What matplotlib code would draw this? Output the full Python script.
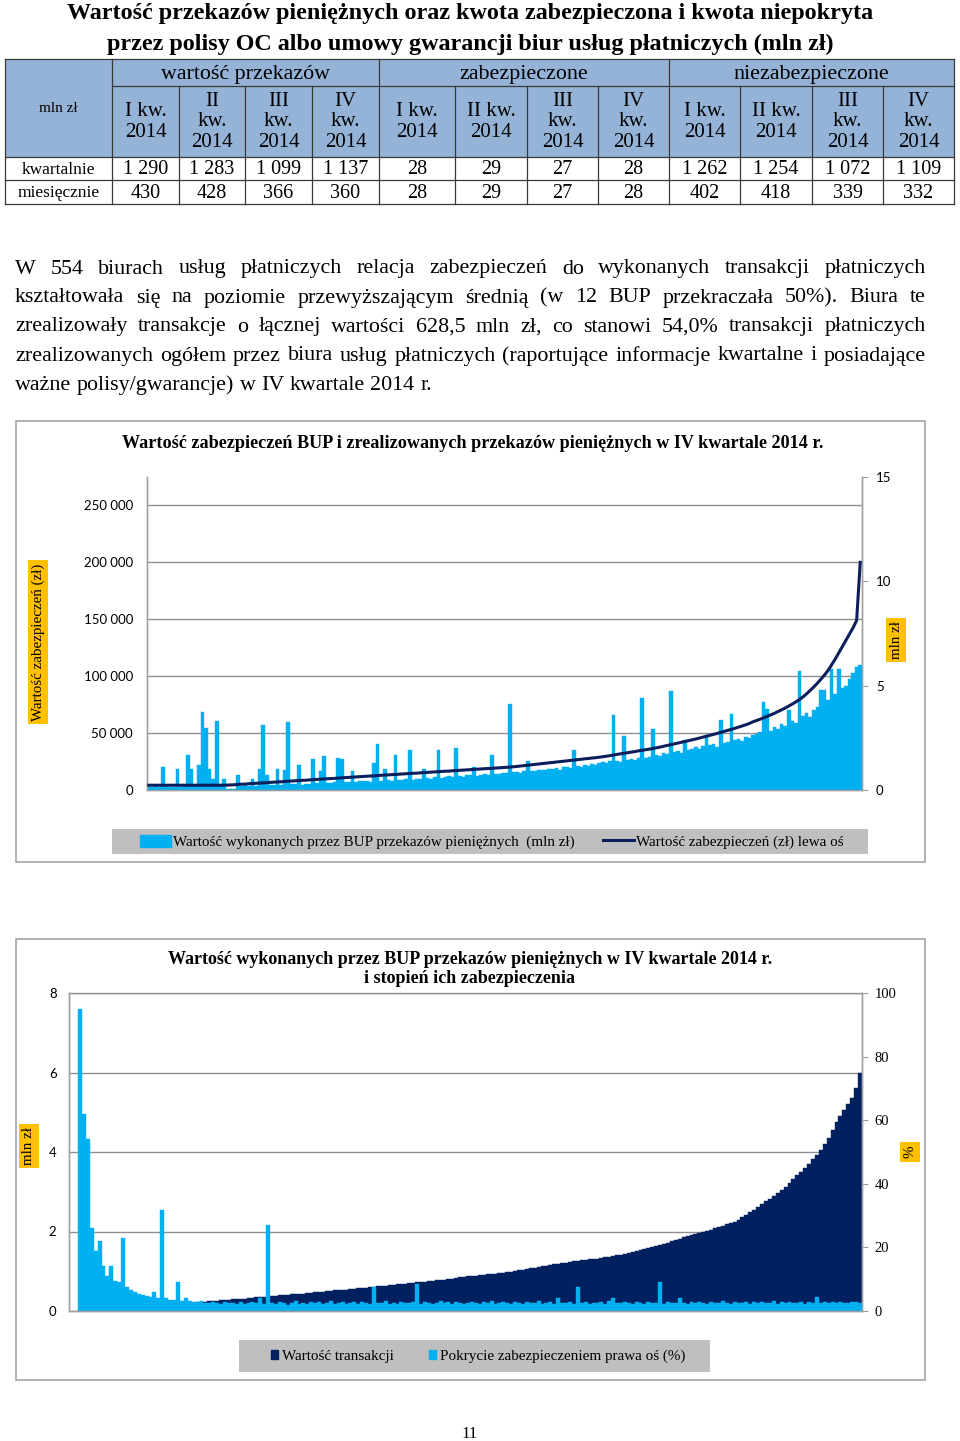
import matplotlib

matplotlib.use("Agg")
import matplotlib.pyplot as plt
import numpy as np
from matplotlib.lines import Line2D
from matplotlib.patches import Patch, Rectangle
from matplotlib.ticker import FuncFormatter

W, H = 960, 1441
SERIF = "Liberation Serif"
SANS = "Lato"
LIGHT = "#00B0F0"
NAVY = "#002060"
LINE_NAVY = "#0B1F5C"
GRID = "#8F8F8F"
SPINE = "#A0A0A0"
YELLOW = "#FFC000"
HEAD = "#95B3D7"
LEG_BG = "#BFBFBF"

# ---- table ----
TITLE = ["Wartość przekazów pieniężnych oraz kwota zabezpieczona i kwota niepokryta",
         "przez polisy OC albo umowy gwarancji biur usług płatniczych (mln zł)"]
GROUPS = ["wartość przekazów", "zabezpieczone", "niezabezpieczone"]
QUARTERS = ["I kw.\n2014", "II\nkw.\n2014", "III\nkw.\n2014", "IV\nkw.\n2014",
            "I kw.\n2014", "II kw.\n2014", "III\nkw.\n2014", "IV\nkw.\n2014",
            "I kw.\n2014", "II kw.\n2014", "III\nkw.\n2014", "IV\nkw.\n2014"]
ROW_LABELS = ["kwartalnie", "miesięcznie"]
KWARTALNIE = [1290, 1283, 1099, 1137, 28, 29, 27, 28, 1262, 1254, 1072, 1109]
MIESIECZNIE = [430, 428, 366, 360, 28, 29, 27, 28, 402, 418, 339, 332]

PARAGRAPH = [
    "W 554 biurach usług płatniczych relacja zabezpieczeń do wykonanych transakcji płatniczych",
    "kształtowała się na poziomie przewyższającym średnią (w 12 BUP przekraczała 50%). Biura te",
    "zrealizowały transakcje o łącznej wartości 628,5 mln zł, co stanowi 54,0% transakcji płatniczych",
    "zrealizowanych ogółem przez biura usług płatniczych (raportujące informacje kwartalne i posiadające",
    "ważne polisy/gwarancje) w IV kwartale 2014 r.",
]

# ---- chart 1: BUP sorted by security value (one bar per ~3 offices) ----
C1_TITLE = "Wartość zabezpieczeń BUP i zrealizowanych przekazów pieniężnych w IV kwartale 2014 r."
C1_TRANSFERS = [  # mln zł, right axis
    0.16, 0.14, 0.18, 0.15, 1.10, 0.17, 0.13, 0.16, 1.00, 0.15,
    0.18, 1.70, 1.00, 0.17, 1.20, 3.75, 2.95, 1.00, 0.55, 3.30,
    0.20, 0.55, 0.05, 0.04, 0.06, 0.70, 0.19, 0.22, 0.18, 0.55,
    0.21, 1.00, 3.10, 0.70, 0.24, 0.22, 1.00, 0.25, 0.95, 3.25,
    0.27, 0.30, 1.20, 0.26, 0.31, 0.29, 1.50, 0.33, 0.90, 1.65,
    0.35, 0.32, 0.38, 1.55, 1.50, 0.36, 0.40, 0.90, 0.37, 0.42,
    0.41, 0.45, 0.39, 1.30, 2.20, 0.44, 1.00, 0.47, 0.43, 1.70,
    0.50, 0.46, 0.52, 1.90, 0.49, 0.55, 0.51, 1.00, 0.57, 0.54,
    0.60, 1.90, 0.58, 0.63, 0.66, 0.61, 2.00, 0.68, 0.64, 0.70,
    0.72, 1.10, 0.69, 0.74, 0.77, 0.71, 1.70, 0.79, 0.75, 0.80,
    0.82, 4.10, 0.84, 0.88, 0.81, 0.90, 1.40, 0.93, 0.89, 0.96,
    0.98, 0.94, 1.02, 1.00, 1.05, 0.97, 1.08, 1.12, 1.04, 1.90,
    1.15, 1.10, 1.20, 1.17, 1.25, 1.21, 1.30, 1.35, 1.28, 1.38,
    3.60, 1.40, 1.33, 2.60, 1.45, 1.50, 1.42, 1.55, 4.40, 1.52,
    1.60, 2.90, 1.70, 1.65, 1.78, 1.72, 4.76, 1.80, 1.85, 1.77,
    2.40, 1.90, 1.95, 2.05, 1.98, 2.10, 2.65, 2.15, 2.20, 2.08,
    3.35, 2.25, 2.30, 3.64, 2.38, 2.45, 2.35, 2.55, 2.50, 2.65,
    2.70, 2.80, 4.20, 3.90, 2.85, 3.00, 2.90, 3.15, 3.05, 3.85,
    3.30, 3.20, 5.70, 3.55, 3.70, 3.50, 3.85, 4.00, 4.80, 4.80,
    4.30, 5.80, 4.60, 5.80, 4.90, 5.00, 5.30, 5.60, 5.90, 6.00,
]
C1_SECURITY = [  # zł, left axis
    4200, 4200, 4200, 4200, 4200, 4200, 4200, 4200, 4200, 4200,
    4200, 4200, 4200, 4200, 4200, 4200, 4200, 4200, 4200, 4200,
    4200, 4200, 4300, 4500, 4600, 4900, 5100, 5200, 5500, 5700,
    5900, 6100, 6200, 6500, 6700, 6900, 7100, 7200, 7500, 7700,
    7900, 8100, 8300, 8500, 8600, 8900, 9100, 9300, 9500, 9700,
    9900, 10100, 10200, 10500, 10700, 10900, 11100, 11300, 11500, 11700,
    11900, 12100, 12300, 12400, 12700, 12900, 13100, 13300, 13500, 13700,
    13900, 14100, 14300, 14500, 14700, 14800, 15100, 15300, 15500, 15700,
    15900, 16100, 16300, 16500, 16600, 16900, 17100, 17300, 17500, 17700,
    17900, 18100, 18300, 18500, 18700, 18900, 19100, 19300, 19500, 19700,
    19900, 20100, 20400, 20700, 21100, 21400, 21800, 22100, 22500, 22800,
    23200, 23500, 23900, 24200, 24600, 24900, 25300, 25600, 26000, 26300,
    26700, 27000, 27400, 27700, 28100, 28400, 28800, 29200, 29700, 30200,
    30700, 31300, 31800, 32300, 32800, 33300, 33800, 34400, 34900, 35400,
    35900, 36500, 37100, 37700, 38400, 39000, 39700, 40400, 41100, 41800,
    42500, 43200, 44000, 44800, 45600, 46400, 47200, 48000, 48800, 49700,
    50600, 51500, 52400, 53300, 54300, 55300, 56300, 57300, 58500, 59900,
    61000, 62200, 63400, 64700, 66000, 67400, 68900, 70400, 72000, 73700,
    75500, 77400, 79500, 81800, 84500, 87500, 90500, 93800, 97300, 101000,
    105000, 110000, 115000, 120500, 126000, 131500, 137000, 142500, 149000, 200000,
]

# ---- chart 2: BUP sorted by transaction value ----
C2_TITLE = "Wartość wykonanych przez BUP przekazów pieniężnych w IV kwartale 2014 r.\ni stopień ich zabezpieczenia"
C2_VALUE = [  # mln zł, left axis
    0.01, 0.02, 0.03, 0.04, 0.05, 0.06, 0.06, 0.07, 0.08, 0.08,
    0.09, 0.10, 0.10, 0.11, 0.12, 0.12, 0.13, 0.13, 0.14, 0.15,
    0.15, 0.16, 0.16, 0.17, 0.18, 0.18, 0.19, 0.20, 0.20, 0.21,
    0.22, 0.23, 0.23, 0.24, 0.25, 0.26, 0.27, 0.27, 0.28, 0.29,
    0.30, 0.31, 0.31, 0.32, 0.33, 0.34, 0.35, 0.35, 0.36, 0.37,
    0.38, 0.39, 0.40, 0.41, 0.42, 0.43, 0.43, 0.44, 0.45, 0.46,
    0.47, 0.48, 0.49, 0.50, 0.51, 0.52, 0.52, 0.53, 0.54, 0.55,
    0.56, 0.57, 0.58, 0.59, 0.60, 0.61, 0.62, 0.63, 0.64, 0.65,
    0.66, 0.67, 0.68, 0.69, 0.70, 0.71, 0.72, 0.73, 0.74, 0.75,
    0.76, 0.77, 0.78, 0.79, 0.80, 0.81, 0.83, 0.85, 0.86, 0.87,
    0.88, 0.89, 0.90, 0.91, 0.92, 0.93, 0.94, 0.95, 0.96, 0.98,
    0.99, 1.01, 1.02, 1.04, 1.05, 1.07, 1.08, 1.10, 1.12, 1.14,
    1.15, 1.17, 1.19, 1.20, 1.22, 1.23, 1.25, 1.26, 1.28, 1.29,
    1.30, 1.31, 1.32, 1.33, 1.35, 1.36, 1.38, 1.40, 1.42, 1.44,
    1.46, 1.48, 1.51, 1.53, 1.56, 1.58, 1.61, 1.63, 1.66, 1.69,
    1.72, 1.75, 1.78, 1.82, 1.85, 1.88, 1.91, 1.94, 1.97, 2.00,
    2.02, 2.05, 2.08, 2.11, 2.14, 2.18, 2.21, 2.24, 2.30, 2.36,
    2.42, 2.48, 2.55, 2.62, 2.70, 2.76, 2.83, 2.90, 2.96, 3.04,
    3.12, 3.21, 3.33, 3.42, 3.50, 3.60, 3.71, 3.82, 3.93, 4.05,
    4.20, 4.35, 4.55, 4.75, 4.90, 5.05, 5.20, 5.35, 5.60, 6.00,
]
C2_COVERAGE = [  # %, right axis
    95.0, 62.0, 54.0, 26.0, 19.0, 22.0, 14.0, 11.0, 14.0, 9.5,
    9.0, 23.0, 7.5, 6.5, 6.0, 5.2, 5.0, 4.6, 4.4, 6.0,
    4.2, 31.8, 4.0, 3.6, 3.5, 9.0, 3.3, 4.2, 3.1, 2.9,
    2.7, 3.1, 2.6, 2.4, 2.9, 2.5, 2.2, 2.8, 2.4, 2.6,
    2.3, 2.7, 2.1, 2.5, 2.9, 2.4, 4.0, 2.2, 27.0, 2.6,
    2.3, 2.8, 2.4, 2.0, 2.6, 3.0, 2.3, 2.5, 2.1, 2.7,
    2.4, 2.9, 2.2, 2.6, 3.2, 2.3, 2.5, 2.8, 2.1, 2.4,
    2.7, 2.3, 2.9, 2.5, 2.2, 7.7, 2.6, 2.4, 3.0, 2.3,
    2.6, 2.2, 2.8, 2.5, 2.4, 2.9, 8.5, 2.3, 2.7, 2.5,
    2.2, 2.6, 3.1, 2.4, 2.7, 2.3, 2.9, 2.5, 2.1, 2.6,
    2.8, 2.4, 2.3, 2.7, 2.5, 3.0, 2.2, 2.6, 2.9, 2.4,
    2.3, 2.7, 2.5, 2.1, 2.8, 2.6, 2.4, 3.1, 2.3, 2.5,
    2.7, 2.2, 4.0, 2.6, 2.4, 2.9, 2.3, 7.6, 2.5, 2.8,
    2.2, 2.6, 2.4, 2.7, 2.3, 3.0, 4.0, 2.5, 2.4, 2.8,
    2.6, 2.3, 2.9, 2.5, 2.2, 2.7, 2.4, 2.6, 9.2, 2.3,
    2.8, 2.5, 2.4, 4.0, 2.6, 2.2, 2.9, 2.4, 2.7, 2.5,
    2.3, 2.8, 2.6, 2.4, 3.0, 2.5, 2.2, 2.7, 2.6, 2.4,
    2.9, 2.3, 2.7, 2.5, 2.8, 2.4, 2.6, 3.1, 2.3, 2.7,
    2.5, 2.8, 2.4, 2.6, 2.9, 2.3, 2.7, 2.5, 4.5, 2.6,
    2.8, 2.4, 2.7, 2.5, 2.9, 2.6, 2.4, 2.8, 2.7, 2.5,
]


def box(x0, y0, x1, y1):
    """pixel box (top-left origin) -> figure fraction rect"""
    return [x0 / W, 1 - y1 / H, (x1 - x0) / W, (y1 - y0) / H]


def spaced(v):
    return f"{int(v):,}".replace(",", " ")


fig = plt.figure(figsize=(W / 100, H / 100), dpi=100)
page = fig.add_axes([0, 0, 1, 1], zorder=0)
page.set_xlim(0, W)
page.set_ylim(H, 0)
page.axis("off")

# ---- title ----
for k, line in enumerate(TITLE):
    page.text(470, 13 + 31 * k, line, ha="center", va="center", family=SERIF,
              fontsize=17.4, fontweight="bold")

# ---- table ----
col_x = [5, 112, 179, 245, 312, 379, 455, 527, 598, 669, 740, 812, 883, 954]
row_y = [59, 86, 157, 180, 204]
page.add_patch(Rectangle((col_x[0], row_y[0]), col_x[-1] - col_x[0], row_y[2] - row_y[0],
                         facecolor=HEAD, edgecolor="none"))
lc = "#3A3A3A"
for y in (row_y[0], row_y[2], row_y[3], row_y[4]):
    page.plot([col_x[0], col_x[-1]], [y, y], color=lc, lw=0.9)
page.plot([col_x[1], col_x[-1]], [row_y[1], row_y[1]], color=lc, lw=0.9)
for j, x in enumerate(col_x):
    top = row_y[0] if j in (0, 1, 5, 9, 13) else row_y[1]
    page.plot([x, x], [top, row_y[4]], color=lc, lw=0.9)
for g, name in enumerate(GROUPS):
    xc = (col_x[1 + 4 * g] + col_x[5 + 4 * g]) / 2
    page.text(xc, 74, name, ha="center", va="center", family=SERIF, fontsize=15.8)
page.text((col_x[0] + col_x[1]) / 2, 108, "mln zł", ha="center", va="center",
          family=SERIF, fontsize=11)
for j, q in enumerate(QUARTERS):
    xc = (col_x[j + 1] + col_x[j + 2]) / 2
    page.text(xc, 122, q, ha="center", va="center", family=SERIF, fontsize=15,
              linespacing=1.12)
for r, (label, vals) in enumerate(zip(ROW_LABELS, [KWARTALNIE, MIESIECZNIE])):
    yc = (row_y[2 + r] + row_y[3 + r]) / 2 + 1
    page.text((col_x[0] + col_x[1]) / 2, yc, label, ha="center", va="center",
              family=SERIF, fontsize=12.5)
    for j, v in enumerate(vals):
        xc = (col_x[j + 1] + col_x[j + 2]) / 2
        page.text(xc, yc, spaced(v), ha="center", va="center", family=SERIF, fontsize=14.5)

# ---- justified paragraph ----
renderer = fig.canvas.get_renderer()
PARA_FS = 15.8
left, right = 15, 926
for k, line in enumerate(PARAGRAPH):
    y = 269 + 29 * k
    words = line.split(" ")
    texts = [page.text(0, y, w, ha="left", va="center", family=SERIF, fontsize=PARA_FS)
             for w in words]
    widths = [t.get_window_extent(renderer).width for t in texts]
    if k == len(PARAGRAPH) - 1:
        gap = PARA_FS * 100 / 72 * 0.25
    else:
        gap = (right - left - sum(widths)) / (len(words) - 1)
    x = left
    for t, w in zip(texts, widths):
        t.set_x(x)
        x += w + gap

# ---- chart frames ----
for (x0, y0, x1, y1) in [(16, 421, 925, 862), (16, 939, 925, 1380)]:
    page.add_patch(Rectangle((x0, y0), x1 - x0, y1 - y0, facecolor="none",
                             edgecolor="#A6A6A6", lw=1.2))


def yellow_label(x, y, text):
    page.text(x, y, text, rotation=90, ha="center", va="center", family=SERIF,
              fontsize=10.8, bbox=dict(facecolor=YELLOW, edgecolor="none", pad=2.5))


def style_spines(ax, right=True):
    for side in ("left", "right", "bottom", "top"):
        ax.spines[side].set_color(SPINE)
        ax.spines[side].set_linewidth(1.0)
    ax.spines["top"].set_visible(False)
    ax.spines["right"].set_visible(right)


# ---- chart 1 ----
page.text(473, 443, C1_TITLE, ha="center", va="center", family=SERIF, fontsize=13.1,
          fontweight="bold")
n1 = len(C1_TRANSFERS)
x1 = np.arange(n1)
ax1 = fig.add_axes(box(147, 477, 862, 790), zorder=1)
ax1.set_ylim(0, 275000)
ax1.set_xlim(0, n1)
ax1.set_yticks(range(0, 250001, 50000))
ax1.yaxis.set_major_formatter(FuncFormatter(lambda v, _: spaced(v)))
ax1.grid(axis="y", color=GRID, lw=1.0)
ax1.set_axisbelow(True)
ax1.tick_params(axis="y", length=0, pad=10, labelsize=9.5)
ax1.tick_params(axis="x", length=0, labelbottom=False)
for lab in ax1.get_yticklabels():
    lab.set_family(SANS)
style_spines(ax1)

ax1b = ax1.twinx()
ax1b.bar(x1, C1_TRANSFERS, width=1.0, align="edge", color=LIGHT,
         edgecolor=LIGHT, linewidth=0.3)
ax1b.set_ylim(0, 15)
ax1b.set_xlim(0, n1)
ax1b.set_yticks([0, 5, 10, 15])
ax1b.tick_params(axis="y", length=4, color=SPINE, pad=6, labelsize=9.5)
for lab in ax1b.get_yticklabels():
    lab.set_family(SANS)
style_spines(ax1b)

ax1c = ax1.twinx()
ax1c.plot(x1 + 0.5, C1_SECURITY, color=LINE_NAVY, lw=2.2)
ax1c.set_ylim(0, 275000)
ax1c.set_xlim(0, n1)
ax1c.axis("off")

yellow_label(38, 642, "Wartość zabezpieczeń (zł)")
yellow_label(896, 640, "mln zł")

page.add_patch(Rectangle((112, 829), 756, 25, facecolor=LEG_BG, edgecolor="none"))
fig.legend([Patch(color=LIGHT), Line2D([], [], color=LINE_NAVY, lw=2.2)],
           ["Wartość wykonanych przez BUP przekazów pieniężnych  (mln zł)",
            "Wartość zabezpieczeń (zł) lewa oś"],
           loc="center", bbox_to_anchor=(492 / W, 1 - 842 / H), ncol=2, frameon=False,
           prop={"family": SERIF, "size": 10.9}, handlelength=2.0, handleheight=0.9,
           handletextpad=0.15, columnspacing=1.9, borderpad=0)

# ---- chart 2 ----
page.text(470, 969, C2_TITLE, ha="center", va="center", family=SERIF, fontsize=13,
          fontweight="bold", linespacing=1.15)
n2 = len(C2_VALUE)
x2 = np.arange(n2)
lead = 9 / 784 * n2  # empty gap between the axis and the first bar
ax2 = fig.add_axes(box(69, 993, 862, 1311), zorder=1)
ax2.bar(x2, C2_VALUE, width=1.0, align="edge", color=NAVY, edgecolor=NAVY, linewidth=0.3)
ax2.set_ylim(0, 8)
ax2.set_xlim(-lead, n2)
ax2.set_yticks([0, 2, 4, 6, 8])
ax2.grid(axis="y", color=GRID, lw=1.0)
ax2.set_axisbelow(True)
ax2.tick_params(axis="y", length=0, pad=9, labelsize=9.5)
ax2.tick_params(axis="x", length=0, labelbottom=False)
for lab in ax2.get_yticklabels():
    lab.set_family(SANS)
style_spines(ax2)
ax2.spines["top"].set_visible(True)
ax2.spines["top"].set_color(GRID)

ax2b = ax2.twinx()
ax2b.bar(x2, C2_COVERAGE, width=1.0, align="edge", color=LIGHT, edgecolor=LIGHT,
         linewidth=0.3)
ax2b.set_ylim(0, 100)
ax2b.set_xlim(-lead, n2)
ax2b.set_yticks(range(0, 101, 20))
ax2b.tick_params(axis="y", length=4, color=SPINE, pad=5, labelsize=10.5)
for lab in ax2b.get_yticklabels():
    lab.set_family(SERIF)
style_spines(ax2b)

yellow_label(29, 1146, "mln zł")
yellow_label(910, 1152, "%")

page.add_patch(Rectangle((239, 1340), 471, 32, facecolor=LEG_BG, edgecolor="none"))
fig.legend([Patch(color=NAVY), Patch(color=LIGHT)],
           ["Wartość transakcji", "Pokrycie zabezpieczeniem prawa oś (%)"],
           loc="center", bbox_to_anchor=(478 / W, 1 - 1356 / H), ncol=2, frameon=False,
           prop={"family": SERIF, "size": 10.9}, handlelength=0.5, handleheight=0.5,
           handletextpad=0.25, columnspacing=2.3, borderpad=0)

page.text(470, 1434, "11", ha="center", va="center", family=SERIF, fontsize=12)

fig.savefig("out.png", dpi=100)
